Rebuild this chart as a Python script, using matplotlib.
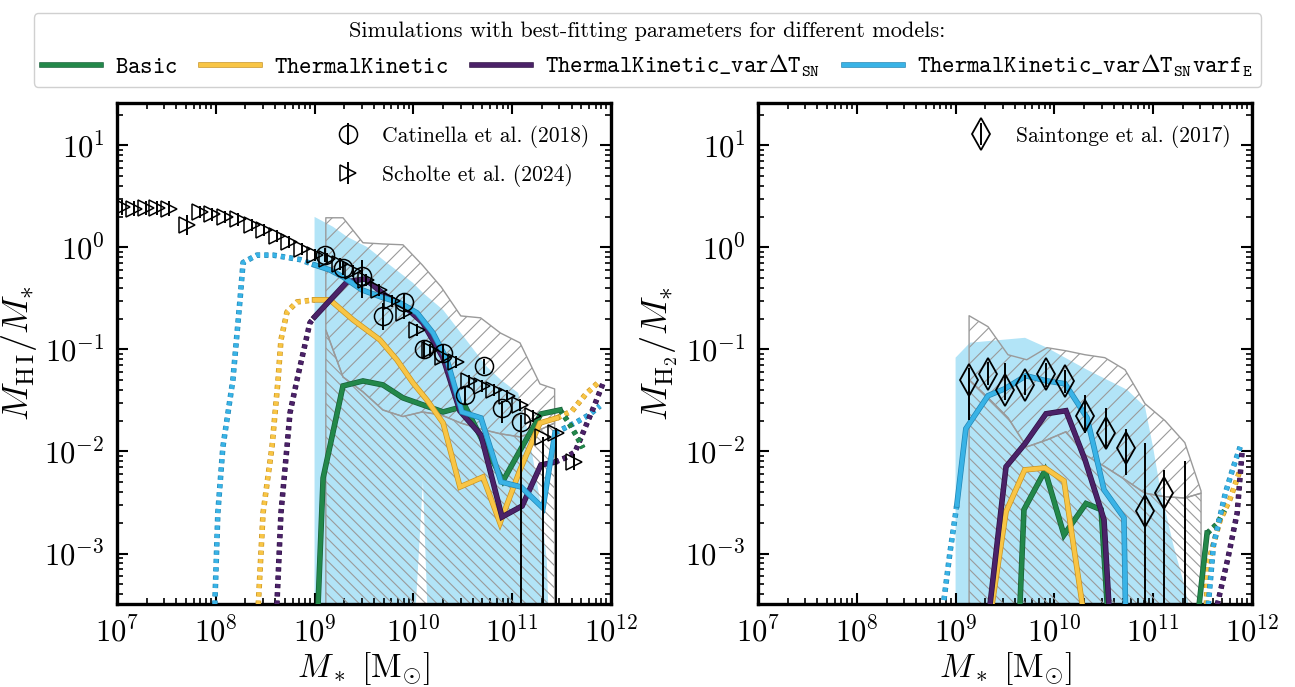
import numpy as np
import matplotlib
matplotlib.use("Agg")
import matplotlib.pyplot as plt
import matplotlib.patheffects as pe

plt.rcParams.update({
    "font.family": "serif",
    "font.serif": ["cmr10"],
    "mathtext.fontset": "cm",
    "axes.formatter.use_mathtext": True,
    "hatch.linewidth": 0.8,
    "lines.scale_dashes": False,
})

C_BASIC = "#23884a"
C_TK = "#f8c545"
C_VAR = "#4b2268"
C_VARF = "#39b3e6"
EDGE = {C_BASIC: "#17603a", C_TK: "#c99320", C_VAR: "#2e1243", C_VARF: "#2186b5"}
BAND = "#b2e4f7"
HATCH = "#9a9a9a"

# ---------------- HI panel -----------------
# scatter band of the varf_E run
HI_BAND_M = [1.0e9, 1.54e9, 2.13e9, 3.39e9, 5.41e9, 9.91e9, 1.25e10, 2.0e10, 3.74e10,
             5.56e10, 7.71e10, 1.15e11, 1.51e11, 1.91e11, 2.24e11, 2.34e11]
HI_BAND_HI = [1.99, 1.59, 1.27, 1.01, 0.705, 0.449, 0.358, 0.244, 0.111,
              0.0673, 0.0502, 0.0375, 0.0130, 0.00335, 8.7e-4, 2.2e-4]
HI_BAND_LO = [1e-8, 1e-8, 1e-8, 1e-8, 1e-8, 1e-4, 0.0052, 1e-8, 1e-8,
              1e-8, 1e-8, 1e-8, 1e-8, 1e-8, 1e-8, 1e-8]

# observational envelopes (upper: // , lower: \\\)
HI_ENV_M = [1.30e9, 1.94e9, 3.09e9, 4.92e9, 7.85e9, 1.23e10, 1.91e10, 3.02e10,
            4.79e10, 7.59e10, 1.20e11, 1.91e11, 2.69e11]
HI_ENV_TOP = [1.95, 1.95, 1.11, 1.08, 1.06, 0.673, 0.410, 0.213, 0.204, 0.145, 0.116, 0.0459, 0.0410]
HI_ENV_MID = [0.155, 0.0537, 0.0384, 0.0255, 0.0220, 0.0244, 0.0228, 0.0190, 0.0166,
              0.0149, 0.0139, 0.0163, 0.0190]
HI_ENV_BOT = [1e-8] * 13

# model curves: (masses, fractions)
HI_VARF_LOW = ([8.91e7, 1.05e8, 1.18e8, 1.49e8, 1.76e8, 1.89e8, 2.61e8, 3.79e8, 7.11e8, 1.0e9],
               [2e-5, 2.5e-3, 0.011, 0.050, 0.306, 0.71, 0.84, 0.84, 0.76, 0.673])
HI_VARF = ([1.0e9, 1.43e9, 1.94e9, 3.02e9, 4.70e9, 7.31e9, 1.09e10, 1.58e10, 2.19e10,
            3.10e10, 4.83e10, 7.71e10, 1.23e11, 2.05e11, 2.71e11],
           [0.673, 0.601, 0.514, 0.383, 0.327, 0.286, 0.228, 0.145, 0.0789,
            0.0244, 0.0213, 0.00503, 0.00449, 0.00279, 0.0152])
HI_VARF_HIGH = ([2.71e11, 3.42e11, 4.53e11, 5.98e11, 7.74e11],
                [0.0152, 0.0170, 0.0195, 0.0228, 0.0279])

HI_VAR_LOW = ([3.55e8, 4.57e8, 5.26e8, 5.64e8, 6.64e8, 7.11e8, 8.97e8, 1.0e9],
              [1e-5, 2.49e-3, 0.0111, 0.0238, 0.0502, 0.0673, 0.182, 0.208])
HI_VAR = ([1.0e9, 2.13e9, 3.24e9, 5.28e9, 8.04e9, 1.25e10, 2.0e10, 2.96e10, 4.83e10,
           7.89e10, 1.26e11, 1.95e11, 2.71e11],
          [0.208, 0.459, 0.491, 0.335, 0.267, 0.182, 0.0826, 0.0249, 0.0145,
           0.00228, 0.00292, 0.00737, 0.00788])
HI_VAR_HIGH = ([2.71e11, 3.42e11, 4.33e11, 5.46e11, 6.89e11, 8.26e11],
               [0.00788, 0.00863, 0.00989, 0.0170, 0.0292, 0.0459])

HI_TK_LOW = ([2.24e8, 3.01e8, 3.71e8, 4.27e8, 4.57e8, 5.26e8, 6.64e8, 1.0e9],
             [1e-5, 2.49e-3, 0.0111, 0.0502, 0.124, 0.233, 0.292, 0.306])
HI_TK = ([1.0e9, 1.43e9, 2.45e9, 4.59e9, 6.82e9, 9.91e9, 1.37e10, 2.0e10, 2.96e10,
          5.06e10, 7.53e10, 1.20e11, 1.91e11, 2.84e11],
         [0.306, 0.306, 0.195, 0.124, 0.0789, 0.0470, 0.0320, 0.0190, 0.00449,
          0.00562, 0.00199, 0.00659, 0.0190, 0.0213])
HI_TK_HIGH = ([2.84e11, 4.03e11, 5.58e11, 7.74e11],
              [0.0213, 0.0249, 0.0366, 0.0491])

HI_BASIC = ([8.91e8, 1.22e9, 1.94e9, 3.09e9, 4.92e9, 7.85e9, 1.25e10, 2.0e10, 3.33e10,
             8.07e10, 1.26e11, 1.95e11, 3.05e11],
            [2.5e-6, 0.0055, 0.0439, 0.0491, 0.0449, 0.0335, 0.0286, 0.0244, 0.0279,
             0.00514, 0.0111, 0.0233, 0.0255])
HI_BASIC_HIGH = ([3.05e11, 3.76e11, 4.43e11, 5.21e11],
                 [0.0255, 0.0190, 0.0145, 0.0108])

# Catinella et al. (2018)
CAT_M = [1.27e9, 1.94e9, 3.02e9, 4.92e9, 8.04e9, 1.28e10, 2.0e10, 3.31e10, 5.13e10, 7.89e10, 1.23e11]
CAT_F = [0.843, 0.63, 0.53, 0.213, 0.292, 0.101, 0.0925, 0.0358, 0.0689, 0.0267, 0.0195]
CAT_LO = [0.72, 0.54, 0.32, 0.155, 0.233, 0.083, 0.078, 0.029, 0.058, 0.019, 1e-6]
CAT_HI = [0.98, 0.74, 0.753, 0.286, 0.36, 0.123, 0.11, 0.044, 0.081, 0.0313, 0.023]

# Scholte et al. (2024)
SCH_LOGM = [7.05, 7.17, 7.29, 7.41, 7.53, 7.71, 7.84, 7.96, 8.09, 8.23, 8.37, 8.49,
            8.62, 8.74, 8.87, 9.00, 9.13, 9.26, 9.39, 9.52, 9.65, 9.78, 9.91, 10.04,
            10.17, 10.30, 10.43, 10.56, 10.69, 10.82, 10.95, 11.08, 11.21, 11.31, 11.44, 11.63]
SCH_F = [2.46, 2.40, 2.44, 2.42, 2.40, 1.66, 2.23, 2.10, 1.97, 1.88, 1.66, 1.49,
         1.30, 1.13, 0.97, 0.84, 0.77, 0.69, 0.59, 0.48, 0.38, 0.30, 0.23, 0.155,
         0.099, 0.084, 0.075, 0.049, 0.044, 0.040, 0.035, 0.0286, 0.0223, 0.0139, 0.0152, 0.0079]
SCH_DLO = [0.07] * 5 + [0.10] + [0.06] * 27 + [6.0, 6.0, 0.08]
SCH_DHI = [0.07] * 5 + [0.10] + [0.06] * 27 + [0.0, 0.05, 0.08]

# ---------------- H2 panel -----------------
H2_BAND_M = [1.0e9, 1.40e9, 5.04e9, 8.41e9, 2.14e10, 5.43e10, 8.26e10, 9.95e10,
             1.17e11, 1.58e11, 2.0e11, 2.42e11]
H2_BAND_HI = [0.0830, 0.1164, 0.130, 0.104, 0.0632, 0.0403, 0.0274, 0.0111,
              4.5e-3, 1.27e-3, 5.5e-4, 2.5e-4]
H2_BAND_LO = [1e-8] * 12

H2_ENV_M = [1.37e9, 2.13e9, 3.39e9, 5.25e9, 8.41e9, 1.31e10, 2.04e10, 3.24e10,
            5.19e10, 8.26e10, 1.32e11, 2.09e11, 3.05e11]
H2_ENV_TOP = [0.214, 0.167, 0.0887, 0.0792, 0.104, 0.097, 0.0887, 0.083, 0.0632,
              0.0294, 0.0200, 0.0122, 4.1e-3]
H2_ENV_MID = [0.0505, 0.0336, 0.0214, 0.0111, 0.0130, 0.0156, 9.3e-3, 7.1e-3, 5.3e-3,
              3.9e-3, 3.6e-3, 3.5e-3, 3.9e-3]
H2_ENV_BOT = [1e-8] * 13

H2_VARF_LOW = ([7.08e8, 8.77e8, 1.03e9], [2.0e-4, 1.02e-3, 3.0e-3])
H2_VARF = ([1.03e9, 1.27e9, 2.13e9, 3.16e9, 5.16e9, 8.22e9, 1.28e10, 2.14e10, 3.18e10,
            5.06e10, 5.56e10, 1.0e11, 2.65e11],
           [3.0e-3, 0.0167, 0.0352, 0.0412, 0.0552, 0.0493, 0.0461, 0.0214, 4.2e-3,
            2.24e-3, 1e-5, 1e-6, 1e-5])
H2_VARF_HIGH = ([2.65e11, 4.07e11, 5.37e11, 6.46e11, 7.59e11],
                [1e-5, 1.2e-3, 3.9e-3, 7.0e-3, 0.0111])

H2_VAR = ([2.04e9, 3.24e9, 5.04e9, 8.22e9, 1.31e10, 2.04e10, 3.18e10, 5.01e10, 1.0e11, 3.16e11],
          [1.5e-4, 7.08e-3, 0.0119, 0.0234, 0.0251, 8.3e-3, 2.14e-3, 1e-6, 1e-6, 1e-6])
H2_VAR_HIGH = ([3.16e11, 3.55e11, 4.47e11, 5.75e11, 7.08e11, 7.94e11],
               [1e-6, 1e-5, 3.2e-4, 9.3e-4, 2.5e-3, 0.0100])

H2_TK = ([2.04e9, 3.24e9, 5.01e9, 8.04e9, 1.25e10, 2.0e10, 1.0e11, 3.16e11],
         [1.3e-4, 2.57e-3, 6.6e-3, 6.9e-3, 5.16e-3, 2.4e-4, 1e-6, 1e-6])
H2_TK_HIGH = ([3.16e11, 3.51e11, 4.74e11, 5.98e11, 7.59e11],
              [1e-6, 7.4e-4, 2.1e-3, 3.4e-3, 6.6e-3])

H2_BASIC = ([3.16e9, 4.92e9, 8.04e9, 1.25e10, 2.09e10, 2.97e10, 5.01e10, 1.5e11, 3.51e11],
            [1e-7, 2.69e-3, 6.5e-3, 1.52e-3, 3.09e-3, 2.69e-3, 1e-6, 1e-6, 1.58e-3])
H2_BASIC_HIGH = ([3.51e11, 4.43e11, 5.33e11], [1.58e-3, 1.95e-3, 2.7e-3])

# Saintonge et al. (2017)
SAI_M = [1.38e9, 2.13e9, 3.20e9, 5.09e9, 8.32e9, 1.28e10, 2.04e10, 3.33e10, 5.25e10,
         8.17e10, 1.29e11, 2.09e11]
SAI_F = [0.0499, 0.0578, 0.0403, 0.0451, 0.0578, 0.0493, 0.0224, 0.0153, 0.0109,
         0.00260, 0.00394, 1.5e-4]
SAI_LO = [0.0205, 0.0451, 0.0322, 0.0360, 0.0431, 0.0376, 0.0153, 0.0109, 0.00592,
          1e-6, 1e-6, 1e-6]
SAI_HI = [0.0662, 0.0759, 0.0741, 0.0565, 0.0741, 0.0633, 0.0360, 0.0268, 0.0167,
          0.0121, 0.0066, 0.0081]

LABELS = [r"$\mathtt{Basic}$",
          r"$\mathtt{ThermalKinetic}$",
          r"$\mathtt{ThermalKinetic\_var}\Delta\mathtt{T}_{\mathtt{SN}}$",
          r"$\mathtt{ThermalKinetic\_var}\Delta\mathtt{T}_{\mathtt{SN}}\mathtt{varf}_{\mathtt{E}}$"]

SOLID_LW = 3.0
DOT_LW = 3.0
DOT_STYLE = (0, (3.0, 3.0))   # in points, dashes are not scaled by width


def outline(color, lw):
    return [pe.Stroke(linewidth=lw + 1.0, foreground=EDGE[color]), pe.Normal()]


def solid(ax, seg, color):
    ln, = ax.plot(seg[0], seg[1], color=color, lw=SOLID_LW, zorder=4, solid_joinstyle="miter",
                  path_effects=outline(color, SOLID_LW))
    return ln


def dotted(ax, seg, color):
    ax.plot(seg[0], seg[1], color=color, lw=DOT_LW, ls=DOT_STYLE, zorder=4,
            path_effects=outline(color, DOT_LW))


def envelopes(ax, m, top, mid, bot):
    ax.fill_between(m, mid, top, facecolor="none", edgecolor=HATCH, hatch="//", lw=1.0, zorder=2)
    ax.fill_between(m, bot, mid, facecolor="none", edgecolor=HATCH, hatch="\\\\\\", lw=1.0, zorder=2)


def style(ax, ylabel):
    ax.set_xscale("log")
    ax.set_yscale("log")
    ax.set_xlim(1e7, 1e12)
    ax.set_ylim(3.2e-4, 26)
    ax.tick_params(which="both", direction="in", top=True, right=True, labelsize=22, pad=9)
    ax.tick_params(which="major", length=8, width=1.5)
    ax.tick_params(which="minor", length=4.5, width=1.2)
    for s in ax.spines.values():
        s.set_linewidth(2.4)
    ax.set_xlabel(r"$M_*\ [\mathrm{M}_{\odot}]$", fontsize=24, labelpad=2)
    ax.set_ylabel(ylabel, fontsize=26, labelpad=4)


fig = plt.figure(figsize=(12.95, 6.87), dpi=100)
ax1 = fig.add_axes([0.0903, 0.1208, 0.3815, 0.7293])
ax2 = fig.add_axes([0.5853, 0.1208, 0.3815, 0.7293])

# HI
ax1.fill_between(HI_BAND_M, HI_BAND_LO, HI_BAND_HI, color=BAND, lw=0, zorder=1)
envelopes(ax1, HI_ENV_M, HI_ENV_TOP, HI_ENV_MID, HI_ENV_BOT)
dotted(ax1, HI_VARF_LOW, C_VARF)
dotted(ax1, HI_VARF_HIGH, C_VARF)
dotted(ax1, HI_VAR_LOW, C_VAR)
dotted(ax1, HI_VAR_HIGH, C_VAR)
dotted(ax1, HI_TK_LOW, C_TK)
dotted(ax1, HI_TK_HIGH, C_TK)
dotted(ax1, HI_BASIC_HIGH, C_BASIC)
h_basic = solid(ax1, HI_BASIC, C_BASIC)
h_tk = solid(ax1, HI_TK, C_TK)
h_var = solid(ax1, HI_VAR, C_VAR)
h_varf = solid(ax1, HI_VARF, C_VARF)

cat_f = np.array(CAT_F)
cat = ax1.errorbar(CAT_M, cat_f, yerr=[cat_f - np.array(CAT_LO), np.array(CAT_HI) - cat_f],
                   fmt="o", ms=13, mfc="none", mec="k", mew=1.1, ecolor="k", elinewidth=1.4,
                   capsize=0, zorder=5, label="Catinella et al. (2018)")
sch_f = np.array(SCH_F)
sch = ax1.errorbar(10 ** np.array(SCH_LOGM), sch_f,
                   yerr=[sch_f * (1 - 10 ** -np.array(SCH_DLO)), sch_f * (10 ** np.array(SCH_DHI) - 1)],
                   fmt=">", ms=11, mfc="none", mec="k", mew=1.1, ecolor="k", elinewidth=1.4,
                   capsize=0, zorder=5, label="Scholte et al. (2024)")
style(ax1, r"$M_{\mathrm{H\,I}}/M_{*}$")
ax1.legend(handles=[cat, sch], loc="upper right", frameon=False, fontsize=15.5,
           handletextpad=0.6, borderaxespad=0.6, labelspacing=0.75)

# H2
ax2.fill_between(H2_BAND_M, H2_BAND_LO, H2_BAND_HI, color=BAND, lw=0, zorder=1)
envelopes(ax2, H2_ENV_M, H2_ENV_TOP, H2_ENV_MID, H2_ENV_BOT)
dotted(ax2, H2_VARF_LOW, C_VARF)
dotted(ax2, H2_BASIC_HIGH, C_BASIC)
dotted(ax2, H2_TK_HIGH, C_TK)
dotted(ax2, H2_VARF_HIGH, C_VARF)
dotted(ax2, H2_VAR_HIGH, C_VAR)
solid(ax2, H2_BASIC, C_BASIC)
solid(ax2, H2_TK, C_TK)
solid(ax2, H2_VAR, C_VAR)
solid(ax2, H2_VARF, C_VARF)

sai_f = np.array(SAI_F)
sai = ax2.errorbar(SAI_M, sai_f, yerr=[sai_f - np.array(SAI_LO), np.array(SAI_HI) - sai_f],
                   fmt="d", ms=16, mfc="none", mec="k", mew=1.3, ecolor="k", elinewidth=1.4,
                   capsize=0, zorder=5, label="Saintonge et al. (2017)")
style(ax2, r"$M_{\mathrm{H_2}}/M_{*}$")
ax2.legend(handles=[sai], loc="upper right", frameon=False, fontsize=15.5,
           handletextpad=0.6, borderaxespad=0.6)

fig.legend(handles=[h_basic, h_tk, h_var, h_varf], labels=LABELS, loc="upper center",
           bbox_to_anchor=(0.5, 0.998), ncol=4, fontsize=17,
           title="Simulations with best-fitting parameters for different models:",
           title_fontsize=16, frameon=True, edgecolor="#d0d0d0", framealpha=1,
           handlelength=2.5, handletextpad=0.6, columnspacing=1.0, borderpad=0.35)

fig.savefig("out.png", dpi=100)
